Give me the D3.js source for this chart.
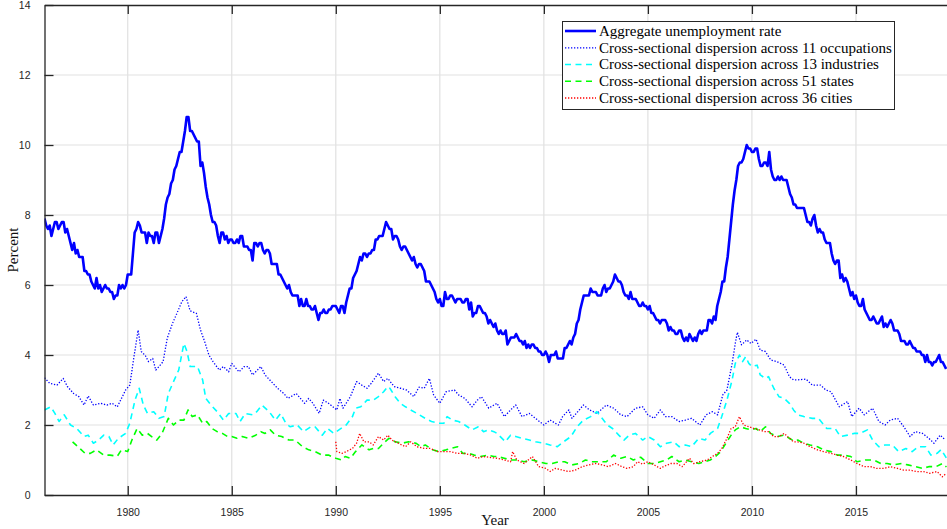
<!DOCTYPE html>
<html>
<head>
<meta charset="utf-8">
<script src="https://cdn.jsdelivr.net/npm/d3@7"></script>
<style>
  html, body { margin: 0; padding: 0; background: #fff; }
  svg { display: block; }
</style>
</head>
<body>
<svg id="chart" width="947" height="529"></svg>
<script>
// ---- Data -------------------------------------------------------------

// Aggregate unemployment rate, monthly, starting January 1976
const unemploymentStart = 1976;
const unemploymentRate = [
  7.9,7.7,7.6,7.7,7.4,7.6,7.8,7.8,7.6,7.7,7.8,7.8,   // 1976
  7.5,7.6,7.4,7.2,7.0,7.2,6.9,7.0,6.8,6.8,6.8,6.4,   // 1977
  6.4,6.3,6.3,6.1,6.0,5.9,6.2,5.9,6.0,5.8,5.9,6.0,   // 1978
  5.9,5.9,5.8,5.8,5.6,5.7,5.7,6.0,5.9,6.0,5.9,6.0,   // 1979
  6.3,6.3,6.3,6.9,7.5,7.6,7.8,7.7,7.5,7.5,7.5,7.2,   // 1980
  7.5,7.4,7.4,7.2,7.5,7.5,7.2,7.4,7.6,7.9,8.3,8.5,   // 1981
  8.6,8.9,9.0,9.3,9.4,9.6,9.8,9.8,10.1,10.4,10.8,10.8, // 1982
  10.4,10.4,10.3,10.2,10.1,10.1,9.4,9.5,9.2,8.8,8.5,8.3, // 1983
  8.0,7.8,7.8,7.7,7.4,7.2,7.5,7.5,7.3,7.4,7.2,7.3,   // 1984
  7.3,7.2,7.2,7.3,7.2,7.4,7.4,7.1,7.1,7.1,7.0,7.0,   // 1985
  6.7,7.2,7.2,7.1,7.2,7.2,7.0,6.9,7.0,7.0,6.9,6.6,   // 1986
  6.6,6.6,6.6,6.3,6.3,6.2,6.1,6.0,5.9,6.0,5.8,5.7,   // 1987
  5.7,5.7,5.7,5.4,5.6,5.4,5.4,5.6,5.4,5.4,5.3,5.3,   // 1988
  5.4,5.2,5.0,5.2,5.2,5.3,5.2,5.2,5.3,5.3,5.4,5.4,   // 1989
  5.4,5.3,5.2,5.4,5.4,5.2,5.5,5.7,5.9,5.9,6.2,6.3,   // 1990
  6.4,6.6,6.8,6.7,6.9,6.9,6.8,6.9,6.9,7.0,7.0,7.3,   // 1991
  7.3,7.4,7.4,7.4,7.6,7.8,7.7,7.6,7.6,7.3,7.4,7.4,   // 1992
  7.3,7.1,7.0,7.1,7.1,7.0,6.9,6.8,6.7,6.8,6.6,6.5,   // 1993
  6.6,6.6,6.5,6.4,6.1,6.1,6.1,6.0,5.9,5.8,5.6,5.5,   // 1994
  5.6,5.4,5.4,5.8,5.6,5.6,5.7,5.7,5.6,5.5,5.6,5.6,   // 1995
  5.6,5.5,5.5,5.6,5.6,5.3,5.5,5.1,5.2,5.2,5.4,5.4,   // 1996
  5.3,5.2,5.2,5.1,4.9,5.0,4.9,4.8,4.9,4.7,4.6,4.7,   // 1997
  4.6,4.6,4.7,4.3,4.4,4.5,4.5,4.5,4.6,4.5,4.4,4.4,   // 1998
  4.3,4.4,4.2,4.3,4.2,4.3,4.3,4.2,4.2,4.1,4.1,4.0,   // 1999
  4.0,4.1,4.0,3.8,4.0,4.0,4.0,4.1,3.9,3.9,3.9,3.9,   // 2000
  4.2,4.2,4.3,4.4,4.3,4.5,4.6,4.9,5.0,5.3,5.5,5.7,   // 2001
  5.7,5.7,5.7,5.9,5.8,5.8,5.8,5.7,5.7,5.7,5.9,6.0,   // 2002
  5.8,5.9,5.9,6.0,6.1,6.3,6.2,6.1,6.1,6.0,5.8,5.7,   // 2003
  5.7,5.6,5.8,5.6,5.6,5.6,5.5,5.4,5.4,5.5,5.4,5.4,   // 2004
  5.3,5.4,5.2,5.2,5.1,5.0,5.0,4.9,5.0,5.0,5.0,4.9,   // 2005
  4.7,4.8,4.7,4.7,4.6,4.6,4.7,4.7,4.5,4.4,4.5,4.4,   // 2006
  4.6,4.5,4.4,4.5,4.4,4.6,4.7,4.6,4.7,4.7,4.7,5.0,   // 2007
  5.0,4.9,5.1,5.0,5.4,5.6,5.8,6.1,6.1,6.5,6.8,7.3,   // 2008
  7.8,8.3,8.7,9.0,9.4,9.5,9.5,9.6,9.8,10.0,9.9,9.9,  // 2009
  9.8,9.8,9.9,9.9,9.6,9.4,9.4,9.5,9.5,9.4,9.8,9.3,   // 2010
  9.1,9.0,9.0,9.1,9.0,9.1,9.0,9.0,9.0,8.8,8.6,8.5,   // 2011
  8.3,8.3,8.2,8.2,8.2,8.2,8.2,8.0,7.8,7.8,7.7,7.9,   // 2012
  8.0,7.7,7.5,7.6,7.5,7.5,7.3,7.2,7.2,7.2,6.9,6.7,   // 2013
  6.6,6.7,6.7,6.2,6.3,6.1,6.2,6.1,5.9,5.7,5.8,5.6,   // 2014
  5.7,5.5,5.4,5.4,5.6,5.3,5.2,5.1,5.0,5.0,5.1,5.0,   // 2015
  4.9,4.9,5.0,5.1,4.8,4.9,4.8,4.9,5.0,4.9,4.7,4.7,   // 2016
  4.7,4.6,4.4,4.4,4.4,4.3,4.3,4.4,4.3,4.2,4.2,4.1,   // 2017
  4.1,4.1,4.0,4.0,3.8,4.0,3.8,3.8,3.7,3.8,3.8,3.9,   // 2018
  4.0,3.8,3.8,3.7,3.6                                // 2019
];

// Cross-sectional dispersion across 11 occupations
const occupationYears = [1976.0,1976.25,1976.6,1976.9,1977.1,1977.4,1977.65,1977.9,1978.1,1978.35,1978.7,1979.0,1979.25,1979.5,1979.7,1979.9,
  1980.1,1980.3,1980.5,1980.65,1980.85,1981.0,1981.2,1981.35,1981.5,1981.7,1981.9,1982.15,1982.4,1982.6,1982.8,1983.0,1983.3,1983.5,1983.7,1983.9,
  1984.1,1984.4,1984.6,1984.85,1985.0,1985.35,1985.6,1985.8,1986.0,1986.4,1986.6,1986.9,1987.2,1987.5,1987.7,1988.1,1988.3,1988.5,1988.7,1988.9,
  1989.2,1989.4,1989.65,1990.05,1990.2,1990.35,1990.7,1991.0,1991.25,1991.5,1991.7,1992.05,1992.3,1992.5,1992.8,1993.1,1993.4,1993.75,1994.0,
  1994.25,1994.5,1994.7,1995.0,1995.3,1995.7,1995.9,1996.2,1996.55,1996.8,1997.0,1997.35,1997.6,1997.75,1998.1,1998.4,1998.65,1998.95,1999.3,
  1999.6,2000.0,2000.3,2000.7,2000.9,2001.2,2001.35,2001.7,2001.9,2002.2,2002.55,2003.0,2003.35,2003.7,2004.0,2004.4,2004.75,2005.0,2005.3,
  2005.6,2005.85,2006.15,2006.5,2006.8,2007.1,2007.5,2007.8,2008.1,2008.35,2008.6,2008.8,2009.05,2009.2,2009.3,2009.5,2009.75,2009.95,2010.2,
  2010.4,2010.65,2010.9,2011.2,2011.55,2011.8,2012.0,2012.2,2012.6,2012.9,2013.3,2013.55,2013.8,2014.2,2014.6,2014.8,2015.15,2015.4,2015.8,
  2016.1,2016.4,2016.65,2017.0,2017.3,2017.6,2017.85,2018.2,2018.5,2018.75,2019.05,2019.3];
const occupationValues = [3.35,3.19,3.14,3.33,3.1,2.9,2.81,2.57,2.83,2.57,2.62,2.57,2.62,2.52,2.76,3.0,
  3.14,3.95,4.71,4.1,3.98,3.81,3.9,3.57,3.67,3.81,4.48,4.9,5.24,5.52,5.67,5.26,5.19,4.71,4.38,4.0,
  3.81,3.57,3.67,3.52,3.76,3.52,3.67,3.67,3.43,3.67,3.43,3.24,3.05,2.9,2.76,2.9,2.76,2.62,2.76,2.62,
  2.33,2.71,2.62,2.43,2.76,2.48,2.81,3.24,3.14,3.05,3.19,3.48,3.24,3.33,3.1,3.05,3.0,2.81,3.08,
  3.05,3.33,2.86,2.62,2.95,3.0,2.86,2.76,2.52,2.71,2.81,2.48,2.57,2.62,2.24,2.43,2.57,2.24,2.33,
  2.19,2.0,2.14,2.0,2.24,2.43,2.19,2.43,2.57,2.43,2.33,2.57,2.48,2.29,2.24,2.48,2.52,2.29,2.19,
  2.43,2.24,2.24,2.1,2.14,2.19,2.0,2.29,2.38,2.29,2.86,3.0,3.76,4.33,4.65,4.29,4.43,4.33,4.45,
  4.14,4.1,3.86,3.81,3.71,3.38,3.29,3.29,3.31,3.14,3.14,3.0,2.95,2.52,2.67,2.24,2.48,2.29,2.48,
  2.1,2.0,2.14,2.19,1.95,1.67,1.81,1.76,1.62,1.48,1.71,1.57];

// Cross-sectional dispersion across 13 industries
const industryYears = [1976.0,1976.3,1976.5,1976.7,1976.95,1977.25,1977.55,1977.9,1978.1,1978.35,1978.6,1978.85,1979.1,1979.3,1979.55,1979.9,
  1980.1,1980.35,1980.55,1980.75,1980.95,1981.25,1981.5,1981.75,1981.95,1982.2,1982.45,1982.7,1982.85,1983.0,1983.35,1983.6,1983.75,
  1984.0,1984.3,1984.6,1984.85,1985.2,1985.4,1985.65,1986.0,1986.2,1986.45,1986.8,1987.1,1987.35,1987.6,1987.8,1988.15,1988.45,1988.8,
  1989.0,1989.35,1989.6,1989.9,1990.15,1990.5,1990.8,1990.95,1991.2,1991.5,1991.8,1992.05,1992.3,1992.5,1992.6,1992.85,1993.1,1993.35,
  1993.6,1993.9,1994.3,1994.6,1994.95,1995.2,1995.35,1995.6,1995.9,1996.2,1996.55,1996.85,1997.1,1997.35,1997.6,1997.75,1998.15,1998.4,
  1998.65,1998.95,1999.3,1999.6,2000.0,2000.3,2000.65,2000.95,2001.3,2001.6,2001.9,2002.25,2002.55,2002.8,2003.05,2003.3,2003.6,2003.85,
  2004.1,2004.4,2004.75,2005.0,2005.3,2005.6,2005.9,2006.25,2006.5,2006.8,2007.1,2007.45,2007.75,2008.0,2008.35,2008.55,2008.8,2009.05,
  2009.2,2009.4,2009.55,2009.7,2009.85,2010.0,2010.25,2010.4,2010.65,2010.8,2011.05,2011.3,2011.55,2011.8,2012.0,2012.2,2012.5,2012.9,
  2013.2,2013.6,2014.0,2014.25,2014.6,2014.9,2015.2,2015.55,2015.8,2016.1,2016.4,2016.75,2017.05,2017.4,2017.7,2018.0,2018.35,2018.6,
  2018.9,2019.1,2019.35];
const industryValues = [2.43,2.52,2.33,2.1,2.29,2.0,1.9,1.67,1.71,1.48,1.57,1.71,1.67,1.43,1.62,1.76,
  2.05,2.71,3.05,2.57,2.33,2.38,2.19,2.24,2.9,3.24,3.57,4.33,4.1,3.67,3.67,3.29,2.76,
  2.57,2.38,2.14,2.33,2.33,2.1,2.33,2.29,2.38,2.57,2.38,2.14,2.33,2.05,1.95,2.0,1.81,1.95,
  1.95,1.71,1.9,1.76,1.86,2.0,2.24,2.48,2.52,2.71,2.71,2.81,2.95,3.1,3.05,2.81,2.62,2.52,
  2.43,2.33,2.19,2.1,2.05,2.05,2.24,2.14,2.1,2.0,1.86,1.95,1.81,1.86,1.81,1.76,1.52,1.71,
  1.67,1.62,1.57,1.52,1.48,1.43,1.38,1.52,1.67,1.95,2.14,2.24,2.38,2.19,2.0,1.9,1.71,1.57,
  1.71,1.76,1.57,1.67,1.57,1.38,1.48,1.52,1.38,1.43,1.38,1.62,1.57,1.76,1.9,2.24,2.71,3.29,
  3.76,4.0,3.81,3.95,3.76,3.67,3.71,3.43,3.33,3.38,3.05,2.81,2.76,2.62,2.43,2.29,2.24,2.19,
  2.19,1.9,1.9,1.67,1.71,1.76,1.76,1.86,1.57,1.38,1.43,1.43,1.24,1.33,1.24,1.38,1.38,1.14,
  1.19,1.3,1.05];

// Cross-sectional dispersion across 51 states
const stateYears = [1977.35,1977.95,1978.2,1978.5,1978.85,1979.15,1979.5,1979.7,1980.0,1980.2,1980.45,1980.7,1980.95,1981.15,1981.4,1981.65,
  1981.95,1982.2,1982.45,1982.7,1982.9,1983.1,1983.35,1983.6,1983.8,1984.05,1984.3,1984.55,1984.8,1985.0,1985.25,1985.5,1985.8,1986.15,
  1986.4,1986.6,1986.85,1987.1,1987.4,1987.75,1988.05,1988.4,1988.7,1989.0,1989.35,1989.65,1990.0,1990.3,1990.45,1990.7,1990.95,1991.25,
  1991.6,1991.8,1992.05,1992.3,1992.55,1992.85,1993.2,1993.5,1993.85,1994.1,1994.3,1994.65,1994.95,1995.3,1995.5,1995.85,1996.1,1996.4,
  1996.65,1996.95,1997.3,1997.6,1997.75,1998.1,1998.4,1998.7,1999.05,1999.45,1999.75,2000.1,2000.4,2000.7,2001.0,2001.35,2001.7,2002.0,
  2002.3,2002.65,2003.0,2003.35,2003.7,2004.0,2004.3,2004.65,2005.0,2005.3,2005.6,2005.9,2006.15,2006.5,2006.8,2007.1,2007.45,2007.75,
  2008.0,2008.25,2008.5,2008.75,2009.0,2009.2,2009.45,2009.7,2009.95,2010.2,2010.4,2010.65,2010.9,2011.2,2011.55,2011.8,2012.0,2012.2,
  2012.5,2012.8,2013.15,2013.45,2013.8,2014.1,2014.4,2014.75,2015.05,2015.45,2015.85,2016.2,2016.5,2016.8,2017.2,2017.5,2017.85,2018.2,
  2018.5,2018.85,2019.15,2019.35];
const stateValues = [1.52,1.19,1.19,1.29,1.14,1.14,1.11,1.29,1.24,1.57,1.9,1.71,1.76,1.67,1.57,1.76,
  2.19,2.0,2.14,2.14,2.43,2.24,2.29,2.05,2.1,1.9,1.81,1.76,1.67,1.67,1.62,1.67,1.62,1.71,
  1.81,1.76,1.86,1.71,1.67,1.57,1.57,1.38,1.29,1.24,1.14,1.14,1.05,1.0,1.1,1.05,1.24,1.43,
  1.29,1.33,1.33,1.48,1.62,1.52,1.48,1.52,1.48,1.38,1.43,1.29,1.24,1.29,1.33,1.38,1.19,1.19,
  1.14,1.1,1.14,1.1,1.1,1.05,1.0,1.0,0.95,1.0,0.95,0.9,0.9,0.95,0.95,0.86,0.9,1.0,
  0.95,0.95,0.95,1.14,1.05,1.1,1.0,1.08,0.9,0.9,0.95,1.0,1.1,0.95,1.0,0.95,0.9,0.95,
  1.0,1.1,1.24,1.48,1.71,1.86,1.95,1.9,1.86,1.9,1.81,1.95,1.76,1.67,1.71,1.62,1.55,1.57,
  1.48,1.43,1.38,1.29,1.24,1.14,1.14,1.1,0.95,1.0,1.0,0.9,0.9,0.86,0.9,0.86,0.81,0.76,
  0.81,0.81,0.9,0.8];

// Cross-sectional dispersion across 36 cities
const cityYears = [1990.0,1990.05,1990.3,1990.5,1990.8,1991.0,1991.15,1991.35,1991.6,1991.8,1992.05,1992.3,1992.5,1992.7,1993.0,1993.35,
  1993.6,1993.9,1994.25,1994.55,1994.9,1995.2,1995.5,1995.85,1996.15,1996.5,1996.8,1997.1,1997.45,1997.75,1998.1,1998.4,1998.5,1998.7,
  1999.05,1999.45,1999.75,2000.1,2000.3,2000.55,2000.9,2001.2,2001.5,2001.85,2002.15,2002.5,2002.8,2003.1,2003.45,2003.75,2004.0,2004.3,
  2004.5,2004.75,2005.0,2005.3,2005.6,2005.75,2006.1,2006.4,2006.65,2007.0,2007.2,2007.5,2007.85,2008.1,2008.35,2008.55,2008.8,2009.0,
  2009.2,2009.4,2009.6,2009.85,2010.1,2010.35,2010.6,2010.8,2011.05,2011.3,2011.55,2011.8,2012.0,2012.2,2012.5,2012.8,2013.15,2013.45,
  2013.8,2014.1,2014.4,2014.75,2015.05,2015.4,2015.7,2016.0,2016.35,2016.65,2017.0,2017.3,2017.6,2017.9,2018.25,2018.55,2018.9,2019.15,
  2019.35];
const cityValues = [1.52,1.24,1.19,1.24,1.33,1.48,1.76,1.52,1.52,1.43,1.67,1.57,1.71,1.57,1.48,1.38,
  1.52,1.38,1.33,1.33,1.24,1.24,1.24,1.19,1.19,1.14,1.05,1.1,1.07,1.05,1.0,0.95,1.24,1.0,
  0.9,1.1,0.81,0.76,0.67,0.76,0.71,0.67,0.71,0.81,0.86,0.9,0.86,0.81,0.9,0.81,0.76,0.81,
  0.95,0.88,0.95,0.86,0.76,0.81,0.9,0.9,0.81,1.05,0.9,0.95,1.0,1.1,1.19,1.33,1.62,1.9,
  1.95,2.24,2.0,1.95,1.9,1.86,1.81,1.81,1.67,1.67,1.76,1.62,1.52,1.52,1.48,1.38,1.29,1.24,
  1.19,1.14,1.1,1.0,0.9,0.81,0.81,0.76,0.76,0.81,0.76,0.71,0.71,0.67,0.67,0.62,0.67,0.52,
  0.62];

const xTicks = [1980, 1985, 1990, 1995, 2000, 2005, 2010, 2015];
const yTicks = [0, 2, 4, 6, 8, 10, 12, 14];

const seriesLabels = [
  "Aggregate unemployment rate",
  "Cross-sectional dispersion across 11 occupations",
  "Cross-sectional dispersion across 13 industries",
  "Cross-sectional dispersion across 51 states",
  "Cross-sectional dispersion across 36 cities"
];

// ---- Layout -----------------------------------------------------------
const W = 947, H = 529;
const plot = { left: 44.5, right: 947.5, top: 5, bottom: 495 };
const axisColor = "#262626";
const gridColor = "#e1e1e1";
const tickFont = "'Liberation Sans', Arial, Helvetica, sans-serif";
const serifFont = "'Liberation Serif', 'Times New Roman', serif";

const svg = d3.select("#chart");

const x = d3.scaleLinear().domain([1976, 2019.4]).range([plot.left, plot.right]);
const y = d3.scaleLinear().domain([0, 14]).range([plot.bottom, plot.top]);

// Grid
const grid = svg.append("g").attr("class", "grid");
grid.selectAll("line.gx").data(xTicks).join("line")
  .attr("x1", d => x(d)).attr("x2", d => x(d))
  .attr("y1", plot.top).attr("y2", plot.bottom)
  .attr("stroke", gridColor).attr("stroke-width", 1.2);
grid.selectAll("line.gy").data(yTicks.filter(v => v > 0 && v < 14)).join("line")
  .attr("x1", plot.left).attr("x2", plot.right)
  .attr("y1", d => y(d)).attr("y2", d => y(d))
  .attr("stroke", gridColor).attr("stroke-width", 1.2);

// Series
svg.append("clipPath").attr("id", "plotClip")
  .append("rect").attr("x", plot.left).attr("y", plot.top)
  .attr("width", plot.right - plot.left).attr("height", plot.bottom - plot.top);

const line = d3.line().x(d => x(d[0])).y(d => y(d[1]));

const urPoints = unemploymentRate.map((v, i) => [unemploymentStart + i / 12, v]);
const zip = (xs, vs) => xs.map((t, i) => [t, vs[i]]);

const series = [
  { pts: urPoints, color: "#0000ff", width: 2.6, dash: null },
  { pts: zip(occupationYears, occupationValues), color: "#0000ff", width: 1.3, dash: "1.3,1.7" },
  { pts: zip(industryYears, industryValues), color: "#00ffff", width: 1.6, dash: "6,4.5" },
  { pts: zip(stateYears, stateValues), color: "#00ff00", width: 1.6, dash: "6,4.5" },
  { pts: zip(cityYears, cityValues), color: "#ff0000", width: 1.3, dash: "1.3,1.7" }
];

const lines = svg.append("g").attr("clip-path", "url(#plotClip)");
series.forEach(s => {
  lines.append("path")
    .datum(s.pts)
    .attr("d", line)
    .attr("fill", "none")
    .attr("stroke", s.color)
    .attr("stroke-width", s.width)
    .attr("stroke-linejoin", "round")
    .attr("stroke-dasharray", s.dash);
});

// Axes (box with inward ticks)
const tickLen = 9;
const bottomAxis = d3.axisBottom(x).tickValues(xTicks).tickFormat(d3.format("d"))
  .tickSizeInner(-tickLen).tickSizeOuter(0).tickPadding(14);
const leftAxis = d3.axisLeft(y).tickValues(yTicks).tickFormat(d3.format("d"))
  .tickSizeInner(-tickLen).tickSizeOuter(0).tickPadding(14);
const topAxis = d3.axisTop(x).tickValues(xTicks).tickFormat("")
  .tickSizeInner(-tickLen).tickSizeOuter(0);

function styleAxis(g) {
  g.select(".domain").attr("stroke", axisColor).attr("stroke-width", 1.3);
  g.selectAll(".tick line").attr("stroke", axisColor).attr("stroke-width", 1.3);
  g.selectAll(".tick text").attr("fill", axisColor)
    .style("font-family", tickFont).style("font-size", "10.5px");
}

svg.append("g").attr("transform", `translate(0,${plot.bottom})`).call(bottomAxis).call(styleAxis);
svg.append("g").attr("transform", `translate(${plot.left},0)`).call(leftAxis).call(styleAxis);
svg.append("g").attr("transform", `translate(0,${plot.top})`).call(topAxis).call(styleAxis);

// Axis titles
svg.append("text")
  .attr("x", (plot.left + plot.right) / 2 - 1).attr("y", 525)
  .attr("text-anchor", "middle")
  .style("font-family", serifFont).style("font-size", "15px").attr("fill", "#111")
  .text("Year");
svg.append("text")
  .attr("transform", `translate(18,${(plot.top + plot.bottom) / 2}) rotate(-90)`)
  .attr("text-anchor", "middle")
  .style("font-family", serifFont).style("font-size", "15px").attr("fill", "#111")
  .text("Percent");

// Legend
const legend = { x: 562.5, y: 21.5, w: 332, h: 88 };
const lg = svg.append("g");
lg.append("rect")
  .attr("x", legend.x).attr("y", legend.y).attr("width", legend.w).attr("height", legend.h)
  .attr("fill", "#fff").attr("stroke", axisColor).attr("stroke-width", 1);
const rowY = [31, 47.8, 64.5, 81.3, 98];
series.forEach((s, i) => {
  lg.append("line")
    .attr("x1", 565).attr("x2", 596)
    .attr("y1", rowY[i]).attr("y2", rowY[i])
    .attr("stroke", s.color).attr("stroke-width", s.width)
    .attr("stroke-dasharray", s.dash);
  lg.append("text")
    .attr("x", 599).attr("y", rowY[i] + 4.8)
    .style("font-family", serifFont).style("font-size", "15px").attr("fill", "#000")
    .text(seriesLabels[i]);
});
</script>
</body>
</html>
